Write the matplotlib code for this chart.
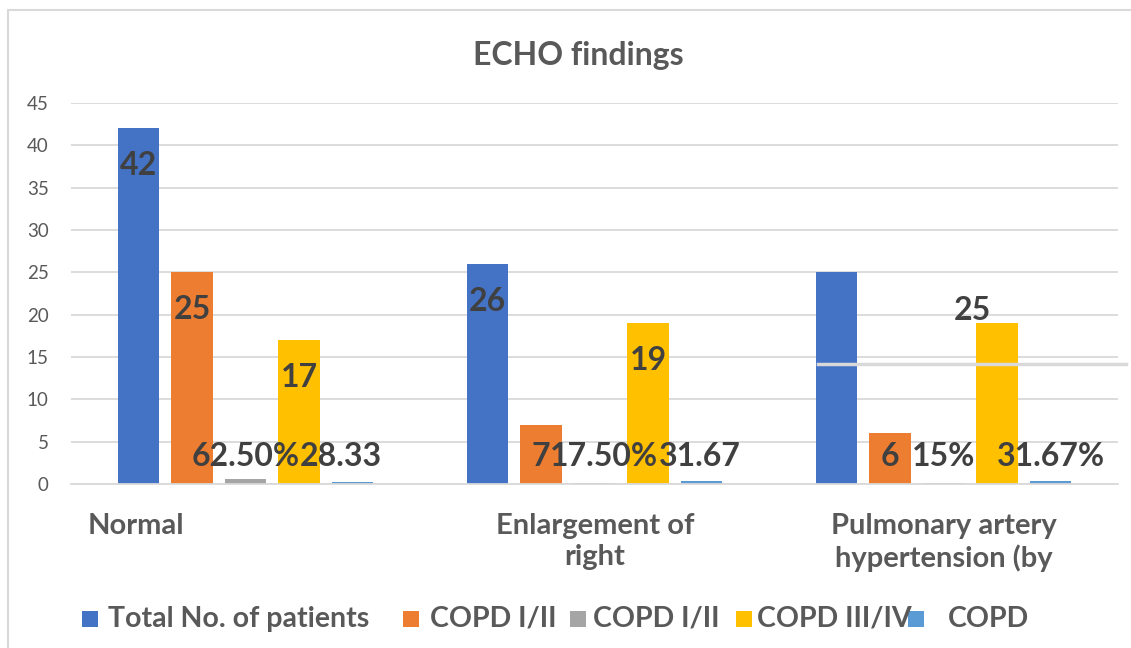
import matplotlib
matplotlib.use("Agg")
import matplotlib.pyplot as plt
from matplotlib.patches import Rectangle
from matplotlib.lines import Line2D
import numpy as np

# ---- data ----
categories = ["Normal", "Enlargement of\nright", "Pulmonary artery\nhypertension (by"]
series_names = ["Total No. of patients", "COPD I/II", "COPD I/II", "COPD III/IV", "COPD"]
total_patients = [42, 26, 25]
copd_1_2 = [25, 7, 6]
copd_1_2_pct = [0.625, 0.175, 0.15]
copd_3_4 = [17, 19, 19]
copd_pct = [0.2833, 0.3167, 0.3167]

total_labels = ["42", "26", "25"]
copd_1_2_labels = ["25", "7", "6"]
copd_1_2_pct_labels = ["62.50%", "17.50%", "15%"]
copd_3_4_labels = ["17", "19", ""]
copd_pct_labels = ["28.33", "31.67", "31.67%"]

yticks = [0, 5, 10, 15, 20, 25, 30, 35, 40, 45]

colors = ["#4472C4", "#ED7D31", "#A5A5A5", "#FFC000", "#5B9BD5"]
series = [total_patients, copd_1_2, copd_1_2_pct, copd_3_4, copd_pct]
labels = [total_labels, copd_1_2_labels, copd_1_2_pct_labels, copd_3_4_labels, copd_pct_labels]

FONT = ["Lato", "DejaVu Sans"]
plt.rcParams["font.family"] = FONT
TXT = "#595959"
LBL = "#404040"

W, H = 1131, 648
fig = plt.figure(figsize=(W / 100, H / 100), dpi=100)
fig.patch.set_facecolor("white")

# outer chart border
fig.add_artist(Rectangle((8 / W, -0.01), 1.05, (H - 10) / H + 0.01, transform=fig.transFigure,
                         fill=False, edgecolor="#d9d9d9", lw=1.5))

ax = fig.add_axes([71 / W, (H - 484) / H, (1118 - 71) / W, (484 - 103) / H])
ax.set_ylim(0, 45)
ax.set_xlim(-0.5, 2.5)
ax.set_yticks(yticks)
ax.yaxis.grid(True, color="#d9d9d9", lw=1.3)
ax.set_axisbelow(True)
for s in ["top", "right", "left"]:
    ax.spines[s].set_visible(False)
ax.spines["bottom"].set_color("#d9d9d9")
ax.spines["bottom"].set_linewidth(1.3)
ax.tick_params(axis="y", length=0, labelsize=13.5, labelcolor=TXT, pad=16)
ax.tick_params(axis="x", length=0)
ax.set_xticks([])

x = np.arange(len(categories))
step = 0.1533
bw = 0.12
for i, (vals, col) in enumerate(zip(series, colors)):
    ax.bar(x + (i - 2) * step, vals, width=bw, color=col, label=series_names[i])

fig.canvas.draw()
r = fig.canvas.get_renderer()

label_fs = 23
bottom_y = 3.2
for g in range(len(categories)):
    low = []
    for i in range(len(series)):
        txt = labels[i][g]
        if not txt:
            continue
        v = series[i][g]
        xc = g + (i - 2) * step
        if i == 0 and g == 2:
            # displaced data label in the original chart
            ax.text(xc + 0.389, v - 4.5, txt, ha="center", va="center", fontsize=label_fs,
                    fontweight="bold", color=LBL)
            continue
        y = v - 4.4
        if y > bottom_y + 1:
            ax.text(xc, y, txt, ha="center", va="center", fontsize=label_fs,
                    fontweight="bold", color=LBL)
        else:
            low.append((i, xc, txt))
    # place bottom-row labels left to right, avoiding overlaps
    right_px = -1e9
    for i, xc, txt in low:
        t = ax.text(xc, bottom_y, txt, ha="center", va="center", fontsize=label_fs,
                    fontweight="bold", color=LBL)
        bb = t.get_window_extent(r)
        margin = 18 if i == 4 else 0
        if bb.x0 < right_px + margin:
            xd = ax.transData.inverted().transform((right_px, 0))[0]
            t.set_x(xd)
            t.set_ha("left")
            bb = t.get_window_extent(r)
        right_px = bb.x1

# artifact line from the original image
fig.add_artist(Line2D([818 / W, 1126 / W], [1 - 364 / H] * 2, transform=fig.transFigure,
                      color="#d9d9d9", lw=2.5))

# category labels
cat_x = [136, 595, 944]
for cx, c in zip(cat_x, categories):
    fig.text(cx / W, 1 - 513 / H, c, ha="center", va="top", fontsize=21, fontweight="bold",
             color=TXT, linespacing=1.22)
# clip bottom of third category label (as in original)
fig.add_artist(Rectangle((800 / W, 0.02), 0.3, (H - 573) / H - 0.02, transform=fig.transFigure,
                         facecolor="white", edgecolor="none", zorder=5))

fig.text(578 / W, 1 - 55 / H, "ECHO findings", ha="center", va="center", fontsize=23,
         fontweight="bold", color=TXT)

# legend (manual layout, like the original)
sq_x = [82, 403, 570, 736, 908]
tx_x = [108, 430, 593, 757, 948]
ly = 1 - 619 / H
for c, name, sx, tx in zip(colors, series_names, sq_x, tx_x):
    fig.add_artist(Rectangle((sx / W, ly - 8 / H), 16 / W, 16 / H, transform=fig.transFigure,
                             facecolor=c, edgecolor="none", zorder=6))
    fig.text(tx / W, ly, name, ha="left", va="center", fontsize=20.5, fontweight="bold",
             color=TXT, zorder=6)

fig.savefig("out.png", dpi=100)
